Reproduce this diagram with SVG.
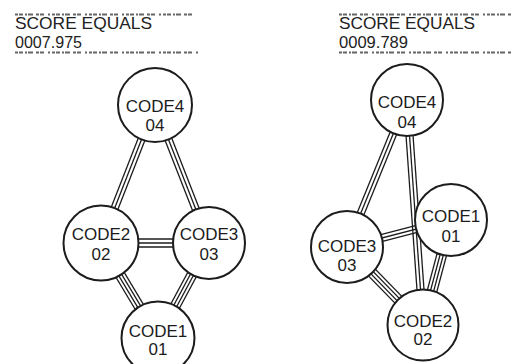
<svg xmlns="http://www.w3.org/2000/svg" width="514" height="364" viewBox="0 0 514 364">
<style>
.bg{fill:#fff}
.node circle{fill:#fff;stroke:#1c1c1c;stroke-width:2}
.lbl{font-family:"Liberation Sans",Arial,sans-serif;font-size:17px;fill:#1c1c1c;text-anchor:middle}
.edges line{stroke:#1c1c1c;stroke-width:1.3}
.hdr{font-family:"Liberation Sans",Arial,sans-serif;font-size:16.5px;fill:#222}
.noise{stroke:#666;stroke-width:2;stroke-dasharray:3 1 4 2 2 1 5 3 3 1 4 4 2 2}
</style>
<rect class="bg" x="0" y="0" width="514" height="364"/>

<g id="header-left">
<line class="noise" x1="15" y1="14.5" x2="196" y2="14.5"/>
<text class="hdr" x="15" y="28.5" textLength="137" lengthAdjust="spacingAndGlyphs">SCORE EQUALS</text>
<text class="hdr" x="15" y="47.5" textLength="67" lengthAdjust="spacingAndGlyphs">0007.975</text>
<line class="noise" x1="15" y1="52.5" x2="200" y2="52.5"/>
</g>
<g id="header-right">
<line class="noise" x1="339" y1="14.5" x2="511" y2="14.5"/>
<text class="hdr" x="339" y="28.5" textLength="136" lengthAdjust="spacingAndGlyphs">SCORE EQUALS</text>
<text class="hdr" x="339" y="47.5" textLength="69" lengthAdjust="spacingAndGlyphs">0009.789</text>
<line class="noise" x1="339" y1="52.5" x2="511" y2="52.5"/>
</g>

<g id="connectors" class="edges">
<!-- left graph -->
<g transform="translate(155,105) rotate(111.37)"><line x1="0" y1="-3.5" x2="148.2" y2="-3.5"/><line x1="0" y1="0" x2="148.2" y2="0"/><line x1="0" y1="3.5" x2="148.2" y2="3.5"/></g>
<g transform="translate(155,105) rotate(68.63)"><line x1="0" y1="-3.5" x2="148.2" y2="-3.5"/><line x1="0" y1="0" x2="148.2" y2="0"/><line x1="0" y1="3.5" x2="148.2" y2="3.5"/></g>
<g transform="translate(101,243) rotate(0)"><line x1="0" y1="-4" x2="108" y2="-4"/><line x1="0" y1="0" x2="108" y2="0"/><line x1="0" y1="4" x2="108" y2="4"/></g>
<g transform="translate(101,243) rotate(59.04)"><line x1="0" y1="-4.8" x2="110.8" y2="-4.8"/><line x1="0" y1="-1.6" x2="110.8" y2="-1.6"/><line x1="0" y1="1.6" x2="110.8" y2="1.6"/><line x1="0" y1="4.8" x2="110.8" y2="4.8"/></g>
<g transform="translate(209,243) rotate(118.23)"><line x1="0" y1="-4.8" x2="107.8" y2="-4.8"/><line x1="0" y1="-1.6" x2="107.8" y2="-1.6"/><line x1="0" y1="1.6" x2="107.8" y2="1.6"/><line x1="0" y1="4.8" x2="107.8" y2="4.8"/></g>
<!-- right graph -->
<g transform="translate(407,100) rotate(112.21)"><line x1="0" y1="-3.5" x2="158.8" y2="-3.5"/><line x1="0" y1="0" x2="158.8" y2="0"/><line x1="0" y1="3.5" x2="158.8" y2="3.5"/></g>
<g transform="translate(407,100) rotate(85.93)"><line x1="0" y1="-3.5" x2="225.6" y2="-3.5"/><line x1="0" y1="0" x2="225.6" y2="0"/><line x1="0" y1="3.5" x2="225.6" y2="3.5"/></g>
<g transform="translate(347,247) rotate(-14.55)"><line x1="0" y1="-3.5" x2="107.4" y2="-3.5"/><line x1="0" y1="0" x2="107.4" y2="0"/><line x1="0" y1="3.5" x2="107.4" y2="3.5"/></g>
<g transform="translate(347,247) rotate(45.74)"><line x1="0" y1="-4.8" x2="108.9" y2="-4.8"/><line x1="0" y1="-1.6" x2="108.9" y2="-1.6"/><line x1="0" y1="1.6" x2="108.9" y2="1.6"/><line x1="0" y1="4.8" x2="108.9" y2="4.8"/></g>
<g transform="translate(451,220) rotate(104.93)"><line x1="0" y1="-4.8" x2="108.7" y2="-4.8"/><line x1="0" y1="-1.6" x2="108.7" y2="-1.6"/><line x1="0" y1="1.6" x2="108.7" y2="1.6"/><line x1="0" y1="4.8" x2="108.7" y2="4.8"/></g>
</g>

<g id="left-code4" class="node"><circle cx="155" cy="105" r="37"/><text class="lbl" x="155" y="112">CODE4</text><text class="lbl" x="155" y="131">04</text></g>
<g id="left-code2" class="node"><circle cx="101" cy="243" r="37.5"/><text class="lbl" x="101" y="240">CODE2</text><text class="lbl" x="101" y="260">02</text></g>
<g id="left-code3" class="node"><circle cx="209" cy="243" r="36"/><text class="lbl" x="209" y="240">CODE3</text><text class="lbl" x="209" y="260">03</text></g>
<g id="left-code1" class="node"><circle cx="158" cy="338" r="36.5"/><text class="lbl" x="158" y="337">CODE1</text><text class="lbl" x="158" y="355">01</text></g>

<g id="right-code4" class="node"><circle cx="407" cy="100" r="36"/><text class="lbl" x="407" y="108">CODE4</text><text class="lbl" x="407" y="128">04</text></g>
<g id="right-code1" class="node"><circle cx="451" cy="220" r="36"/><text class="lbl" x="451" y="222">CODE1</text><text class="lbl" x="451" y="242">01</text></g>
<g id="right-code3" class="node"><circle cx="347" cy="247" r="36"/><text class="lbl" x="347" y="252">CODE3</text><text class="lbl" x="347" y="271">03</text></g>
<g id="right-code2" class="node"><circle cx="423" cy="325" r="35.5"/><text class="lbl" x="423" y="327">CODE2</text><text class="lbl" x="423" y="345">02</text></g>
</svg>
